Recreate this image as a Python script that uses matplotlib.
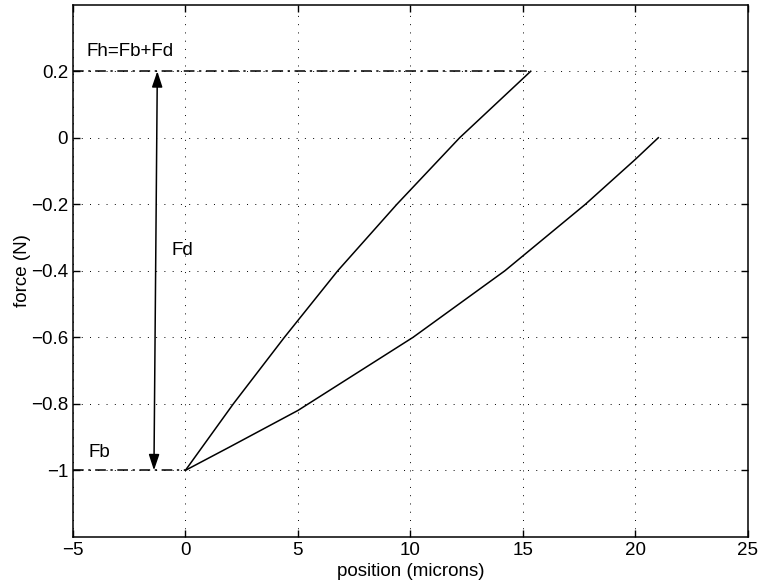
import numpy as np
import matplotlib
matplotlib.use('Agg')
import matplotlib.pyplot as plt

plt.rcParams['font.family'] = ['Liberation Sans', 'DejaVu Sans']

# curves (position in microns, force in N)
upper_x = [0, 2.13, 4.4, 6.77, 9.4, 12.19, 15.35]
upper_y = [-1.0, -0.8, -0.6, -0.4, -0.2, 0.0, 0.2]
lower_x = [0, 1.96, 5.0, 10.12, 14.2, 17.78, 20.0, 21.02]
lower_y = [-1.0, -0.93, -0.82, -0.6, -0.4, -0.2, -0.065, 0.0]

fb = -1.0
fh = 0.2
arrow_x = [-1.25, -1.4]   # top, bottom

xticks = [-5, 0, 5, 10, 15, 20, 25]
xtick_labels = ['\u22125', '0', '5', '10', '15', '20', '25']
yticks = [-1, -0.8, -0.6, -0.4, -0.2, 0, 0.2]
ytick_labels = ['\u22121', '\u22120.8', '\u22120.6', '\u22120.4', '\u22120.2', '0', '0.2']

fs = 13.5

fig = plt.figure(figsize=(7.6, 5.88), dpi=100)
ax = fig.add_axes([0.096, 0.087, 0.888, 0.905])

ax.plot(upper_x, upper_y, color='black', lw=1.1)
ax.plot(lower_x, lower_y, color='black', lw=1.1)

dashdot = (0, (7, 3, 1.5, 3))
ax.plot([-5, upper_x[-1]], [fh, fh], color='black', lw=1.1, linestyle=dashdot)
ax.plot([-5, 0], [fb, fb], color='black', lw=1.1, linestyle=dashdot)

ax.annotate('', xy=(arrow_x[0], fh), xytext=(arrow_x[1], fb),
            arrowprops=dict(arrowstyle='<|-|>,head_length=0.6,head_width=0.2',
                            color='black', lw=1.1,
                            mutation_scale=16, shrinkA=0, shrinkB=0))

ax.text(-4.4, 0.258, 'Fh=Fb+Fd', fontsize=fs, va='center', ha='left')
ax.text(-4.3, -0.945, 'Fb', fontsize=fs, va='center', ha='left')
ax.text(-0.62, -0.34, 'Fd', fontsize=fs, va='center', ha='left')

ax.set_xlim(-5, 25)
ax.set_ylim(-1.2, 0.4)
ax.set_xticks(xticks)
ax.set_xticklabels(xtick_labels)
ax.set_yticks(yticks)
ax.set_yticklabels(ytick_labels)
ax.tick_params(direction='in', top=True, right=True, labelsize=fs, length=5, width=1)
ax.grid(True, color='black', linestyle=(0, (1, 7.5)), lw=0.7)
for s in ax.spines.values():
    s.set_linewidth(1.1)

ax.set_xlabel('position (microns)', fontsize=fs, labelpad=3)
ax.set_ylabel('force (N)', fontsize=fs, labelpad=0)

fig.savefig('out.png', dpi=100)
